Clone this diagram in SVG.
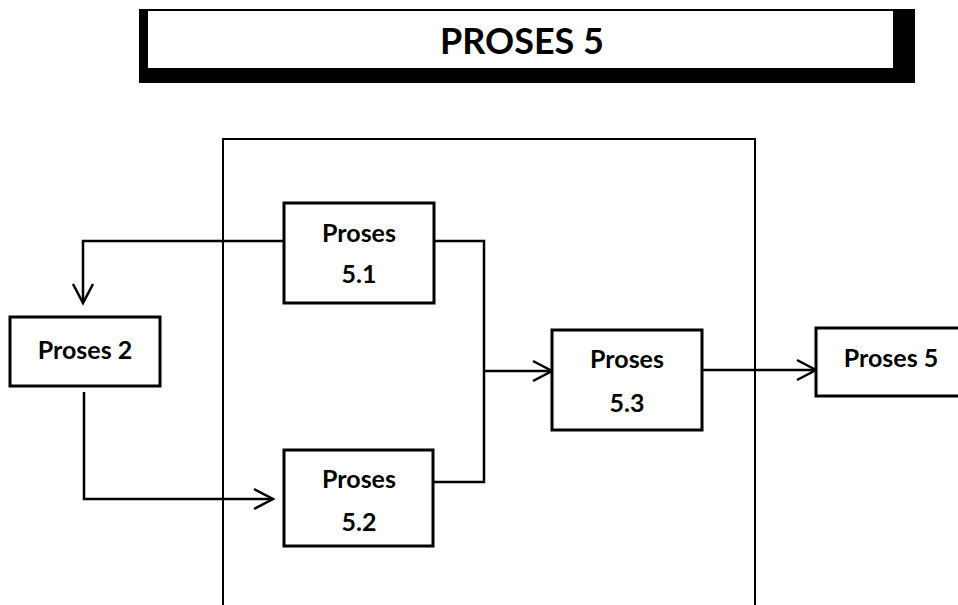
<svg xmlns="http://www.w3.org/2000/svg" width="958" height="605" viewBox="0 0 958 605">
<defs>
<style>
.box{fill:#fff;stroke:#000;stroke-width:3}
.lbl{font-family:Lato,"Liberation Sans",sans-serif;font-weight:bold;font-size:25px;fill:#000;text-anchor:middle}
.con{fill:none;stroke:#000;stroke-width:2.5}
</style>
<marker id="arr" viewBox="-22 -12 24 24" markerWidth="24" markerHeight="24" refX="0" refY="0" markerUnits="userSpaceOnUse" orient="auto" overflow="visible">
<path d="M-19,-10 L0,0 L-19,10" fill="none" stroke="#000" stroke-width="2.5"/>
</marker>
</defs>
<rect width="958" height="605" fill="#fff"/>
<g id="title">
<rect x="139" y="9" width="776" height="74" fill="#000"/>
<rect x="148" y="11" width="745" height="57" fill="#fff"/>
<text x="522" y="54" font-family="Lato,'Liberation Sans',sans-serif" font-weight="bold" font-size="36" text-anchor="middle">PROSES 5</text>
</g>
<g id="container">
<path d="M223,605 L223,139 L755,139 L755,605" fill="none" stroke="#000" stroke-width="2"/>
</g>
<g id="connectors">
<path class="con" d="M284,241 L83,241 L83,303" marker-end="url(#arr)"/>
<path class="con" d="M84,392 L84,499 L273,499" marker-end="url(#arr)"/>
<path class="con" d="M434,241 L484,241 L484,482 L434,482"/>
<path class="con" d="M484,371 L552,371" marker-end="url(#arr)"/>
<path class="con" d="M702,370 L816,370" marker-end="url(#arr)"/>
</g>
<g id="p51">
<rect class="box" x="284" y="203" width="150" height="100"/>
<text class="lbl" x="359" y="242">Proses</text>
<text class="lbl" x="359" y="283">5.1</text>
</g>
<g id="p2">
<rect class="box" x="10" y="317" width="150" height="69"/>
<text class="lbl" x="85" y="359">Proses 2</text>
</g>
<g id="p52">
<rect class="box" x="284" y="450" width="149" height="96"/>
<text class="lbl" x="359" y="488">Proses</text>
<text class="lbl" x="359" y="531">5.2</text>
</g>
<g id="p53">
<rect class="box" x="552" y="330" width="150" height="100"/>
<text class="lbl" x="627" y="368">Proses</text>
<text class="lbl" x="627" y="412">5.3</text>
</g>
<g id="p5">
<rect class="box" x="816" y="328" width="154" height="68"/>
<text class="lbl" x="891" y="367">Proses 5</text>
</g>
</svg>
